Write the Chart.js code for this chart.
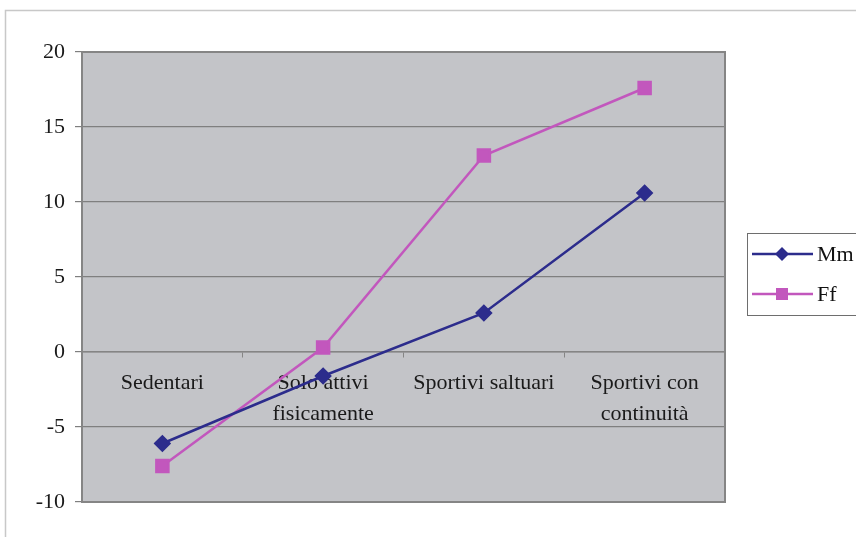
<!DOCTYPE html>
<html>
<head>
<meta charset="utf-8">
<script src="https://cdn.jsdelivr.net/npm/chart.js@4.4.1/dist/chart.umd.min.js"></script>
<style>
html,body{margin:0;padding:0;background:#fff;}
#wrap{width:856px;height:537px;position:relative;}
</style>
</head>
<body>
<div id="wrap"><canvas id="c" width="856" height="537"></canvas></div>
<script>
const categories = [['Sedentari'], ['Solo attivi', 'fisicamente'], ['Sportivi saltuari'], ['Sportivi con', 'continuità']];
const seriesNames = ['Mm', 'Ff'];
const mmValues = [-6.1, -1.6, 2.6, 10.6];
const ffValues = [-7.6, 0.3, 13.1, 17.6];
const yTicks = [-10, -5, 0, 5, 10, 15, 20];

const FONT = "'Liberation Serif', 'Times New Roman', serif";
const MM_COLOR = '#2c2c8c';
const FF_COLOR = '#c257bd';

const bgPlugin = {
  id: 'bgPlugin',
  beforeDraw(chart) {
    const ctx = chart.ctx;
    const a = chart.chartArea;
    ctx.save();
    ctx.fillStyle = '#ffffff';
    ctx.fillRect(0, 0, chart.width, chart.height);
    ctx.strokeStyle = '#c8c8c8';
    ctx.lineWidth = 1.5;
    ctx.strokeRect(5.5, 10.5, 1000, 700);
    ctx.fillStyle = '#c3c4c8';
    ctx.fillRect(a.left, a.top, a.right - a.left, a.bottom - a.top);
    ctx.restore();
  },
  afterDatasetsDraw(chart) {
    const ctx = chart.ctx;
    const a = chart.chartArea;
    ctx.save();
    ctx.strokeStyle = '#858585';
    ctx.lineWidth = 2;
    ctx.strokeRect(a.left, a.top, a.right - a.left, a.bottom - a.top);
    ctx.restore();
  },
  afterDraw(chart) {
    const ctx = chart.ctx;
    ctx.save();
    ctx.strokeStyle = '#6e6e6e';
    ctx.lineWidth = 1;
    ctx.strokeRect(747.5, 233.5, 200, 82);
    ctx.font = '22px ' + FONT;
    ctx.textBaseline = 'middle';
    ctx.textAlign = 'left';
    const rows = [254, 294];
    chart.data.datasets.forEach((ds, i) => {
      const y = rows[i];
      ctx.strokeStyle = ds.borderColor;
      ctx.lineWidth = 2.5;
      ctx.beginPath();
      ctx.moveTo(752, y);
      ctx.lineTo(813, y);
      ctx.stroke();
      ctx.fillStyle = ds.pointBackgroundColor;
      ctx.beginPath();
      if (ds.pointStyle === 'rect') {
        ctx.rect(776, y - 6, 12, 12);
      } else {
        ctx.moveTo(782, y - 7);
        ctx.lineTo(789, y);
        ctx.lineTo(782, y + 7);
        ctx.lineTo(775, y);
        ctx.closePath();
      }
      ctx.fill();
      ctx.fillStyle = '#111';
      ctx.fillText(ds.label, 817, y + 1);
    });
    ctx.restore();
  }
};

new Chart(document.getElementById('c'), {
  type: 'line',
  data: {
    labels: categories,
    datasets: [
      {
        label: seriesNames[0],
        data: mmValues,
        borderColor: MM_COLOR,
        backgroundColor: MM_COLOR,
        pointBackgroundColor: MM_COLOR,
        pointBorderColor: MM_COLOR,
        pointStyle: 'rectRot',
        pointRadius: 7,
        borderWidth: 2.5,
        tension: 0
      },
      {
        label: seriesNames[1],
        data: ffValues,
        borderColor: FF_COLOR,
        backgroundColor: FF_COLOR,
        pointBackgroundColor: FF_COLOR,
        pointBorderColor: FF_COLOR,
        pointStyle: 'rect',
        pointRadius: 8.5,
        borderWidth: 2.5,
        tension: 0
      }
    ]
  },
  options: {
    responsive: false,
    animation: false,
    devicePixelRatio: 1,
    layout: { padding: { top: 52, right: 131, bottom: 35, left: 0 } },
    plugins: { legend: { display: false }, tooltip: { enabled: false } },
    scales: {
      x: {
        type: 'category',
        offset: true,
        position: { y: 0 },
        grid: {
          display: true,
          drawOnChartArea: false,
          drawTicks: true,
          tickLength: 5,
          color: '#858585',
          offset: true
        },
        border: { display: true, color: '#858585', width: 1.5 },
        ticks: {
          color: '#1a1a1a',
          font: { family: FONT, size: 22, lineHeight: 1.4 },
          padding: 11,
          maxRotation: 0,
          autoSkip: false
        }
      },
      y: {
        min: -10,
        max: 20,
        afterBuildTicks(scale) { scale.ticks = yTicks.map(v => ({ value: v })); },
        afterFit(scale) { scale.width = 82; },
        grid: {
          color: '#7f7f7f',
          lineWidth: 1.2,
          drawTicks: true,
          tickLength: 7
        },
        border: { display: false },
        ticks: {
          color: '#1a1a1a',
          font: { family: FONT, size: 22 },
          padding: 10
        }
      }
    }
  },
  plugins: [bgPlugin]
});
</script>
</body>
</html>
